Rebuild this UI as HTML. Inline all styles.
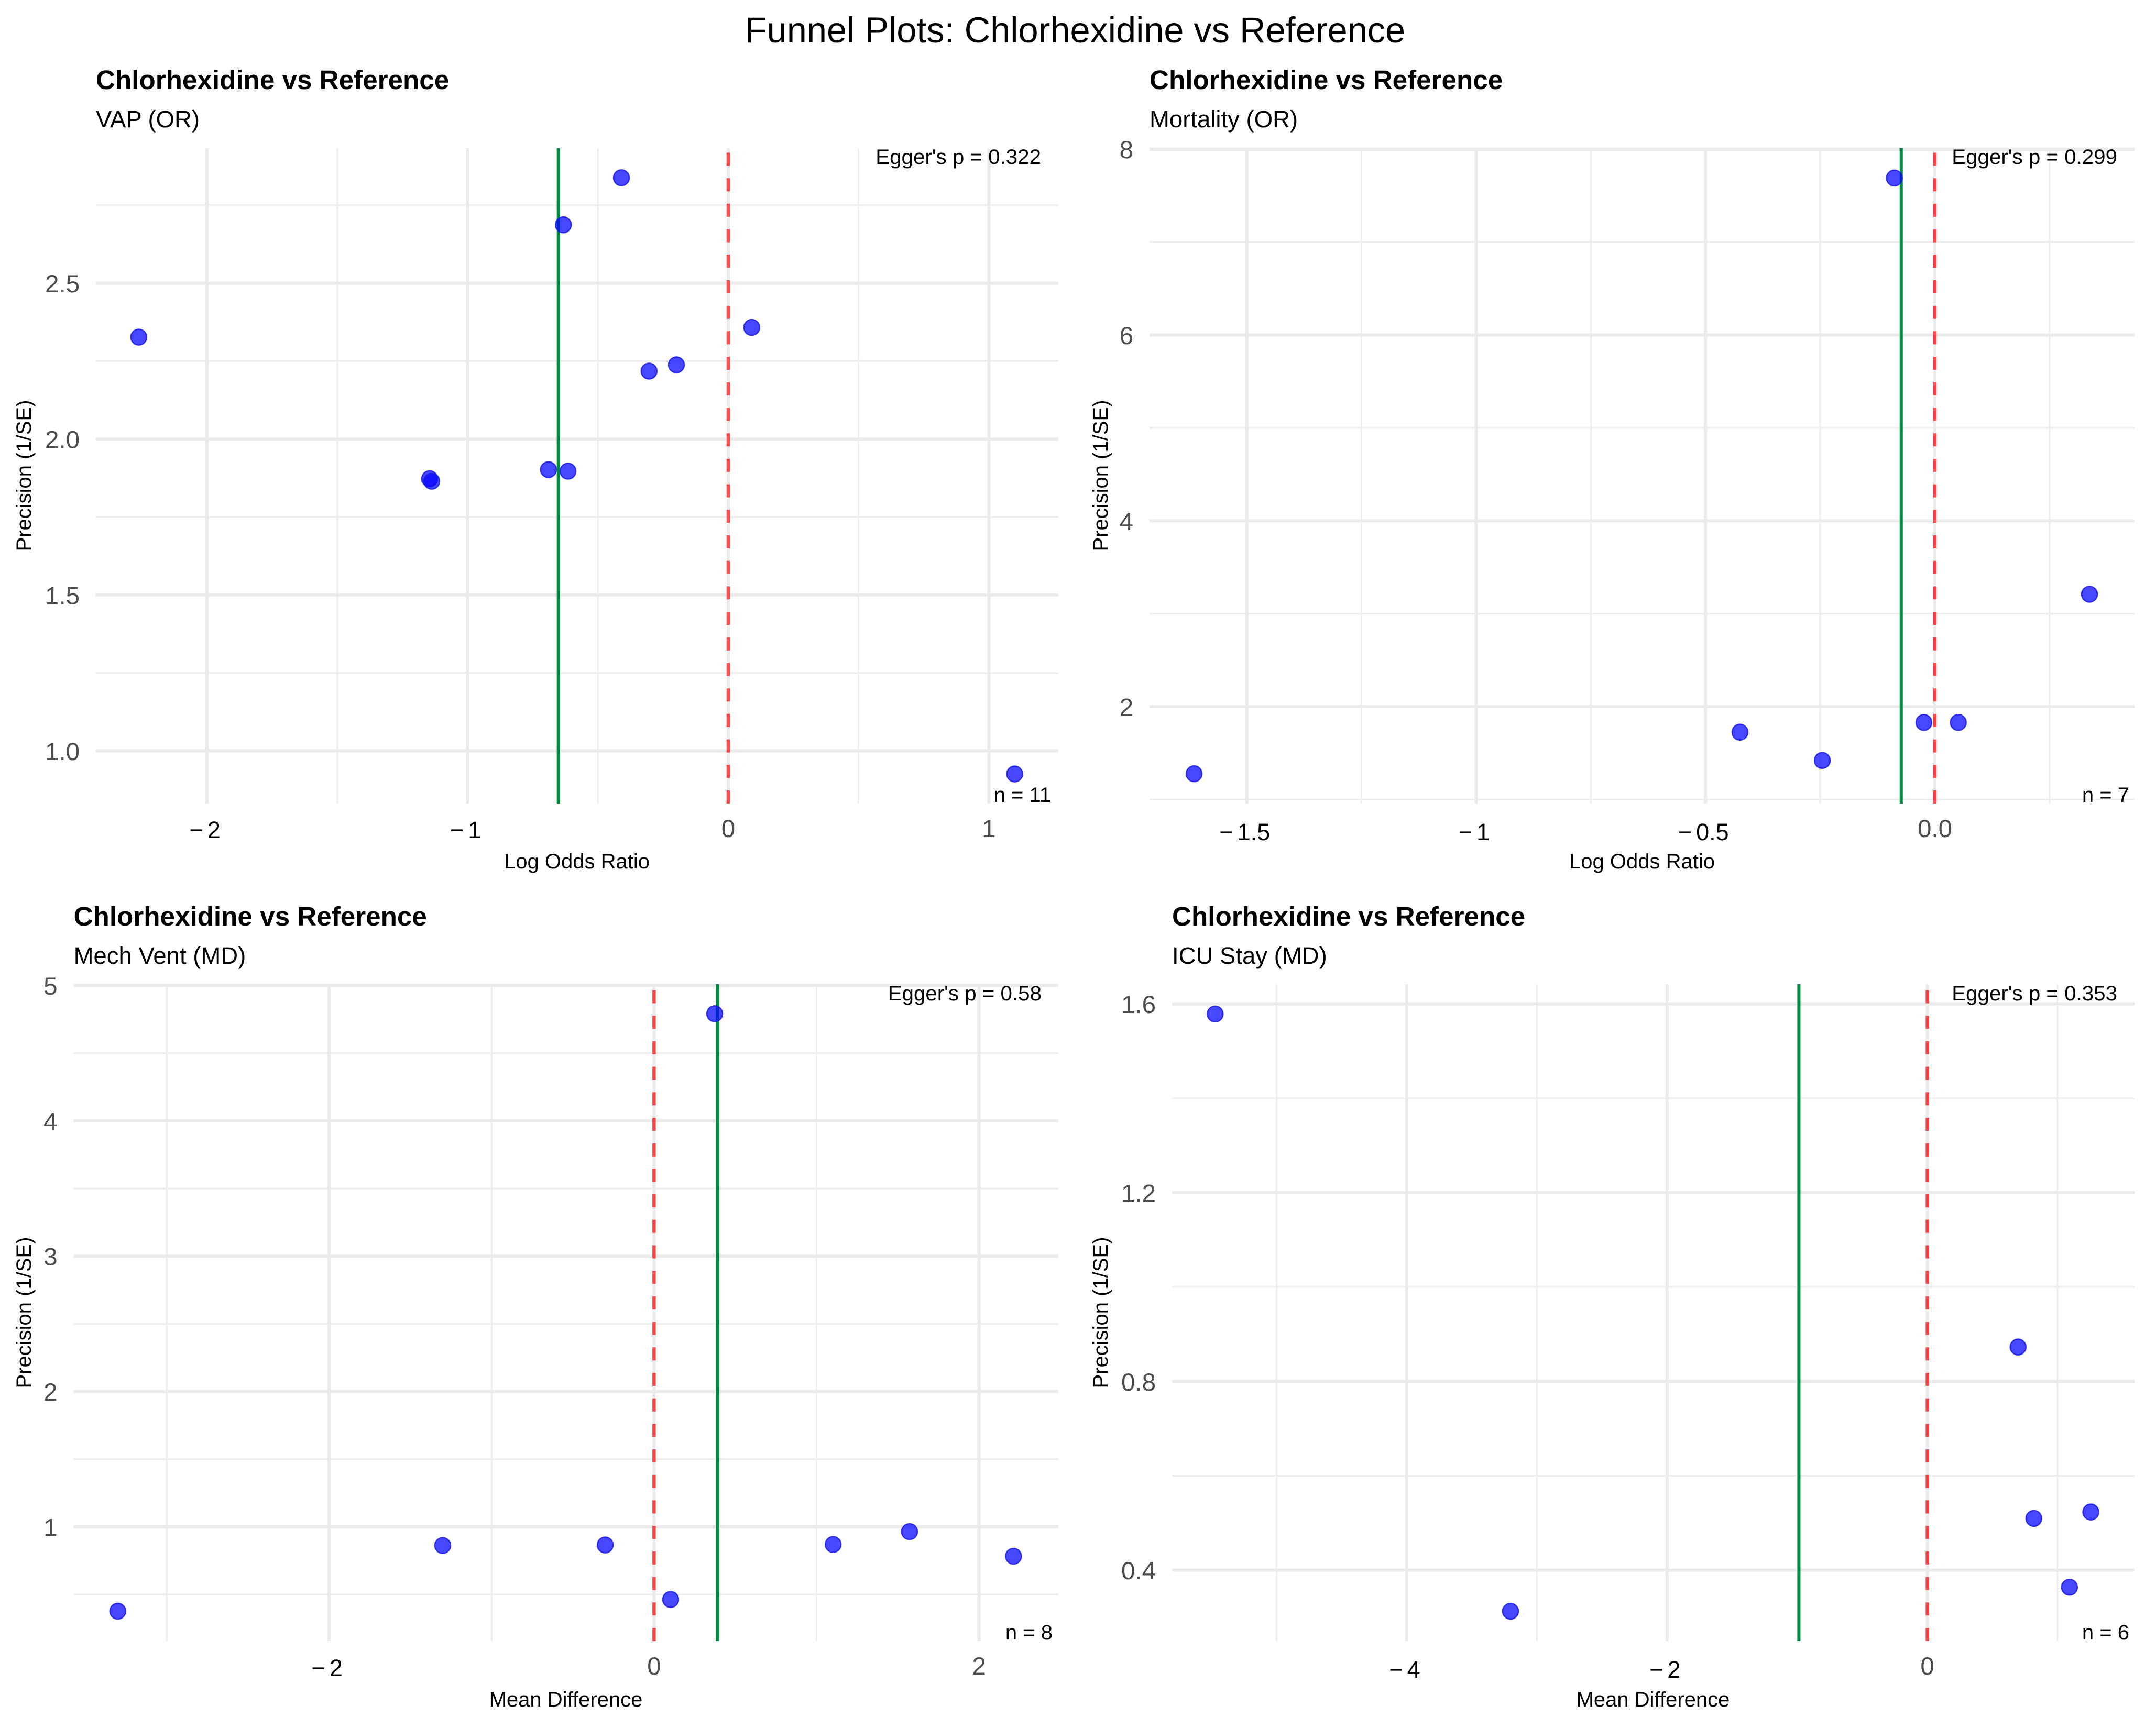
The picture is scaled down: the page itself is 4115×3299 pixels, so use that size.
<!DOCTYPE html>
<html lang="en">
<head>
<meta charset="utf-8">
<title>Funnel Plots: Chlorhexidine vs Reference</title>
<style>
  html, body { margin: 0; padding: 0; background: #fff; }
  svg { display: block; font-family: "Liberation Sans", Arial, sans-serif; }
  .panel-title { font-size: 51.2px; font-weight: bold; fill: #000; }
  .panel-subtitle { font-size: 45.5px; fill: #000; }
  .axis-title { font-size: 40px; fill: #000; }
  .egger { font-size: 40.3px; fill: #000; text-anchor: end; }
  .count { font-size: 40px; fill: #000; text-anchor: end; }
</style>
</head>
<body>
<svg id="chart" xmlns="http://www.w3.org/2000/svg" width="4115" height="3299" viewBox="0 0 4115 3299">
  <rect x="0" y="0" width="4115" height="3299" fill="#ffffff"/>
  <text x="2052" y="81" font-size="68.5" text-anchor="middle" fill="#000">Funnel Plots: Chlorhexidine vs Reference</text>

  <g id="panel-vap">
    <g id="marks-vap"></g>
    <text class="panel-title" x="183" y="170">Chlorhexidine vs Reference</text>
    <text class="panel-subtitle" x="183" y="243">VAP (OR)</text>
    <text class="axis-title" x="1101" y="1658" text-anchor="middle">Log Odds Ratio</text>
    <text class="axis-title" transform="translate(59 908) rotate(-90)" text-anchor="middle">Precision (1/SE)</text>
    <text class="egger" x="1987" y="313">Egger's p = 0.322</text>
    <text class="count" x="2006" y="1531">n = 11</text>
  </g>

  <g id="panel-mortality">
    <g id="marks-mortality"></g>
    <text class="panel-title" x="2194" y="170">Chlorhexidine vs Reference</text>
    <text class="panel-subtitle" x="2194" y="243">Mortality (OR)</text>
    <text class="axis-title" x="3134" y="1658" text-anchor="middle">Log Odds Ratio</text>
    <text class="axis-title" transform="translate(2114 908) rotate(-90)" text-anchor="middle">Precision (1/SE)</text>
    <text class="egger" x="4041" y="313">Egger's p = 0.299</text>
    <text class="count" x="4064" y="1531">n = 7</text>
  </g>

  <g id="panel-vent">
    <g id="marks-vent"></g>
    <text class="panel-title" x="140.6" y="1767">Chlorhexidine vs Reference</text>
    <text class="panel-subtitle" x="140.6" y="1840">Mech Vent (MD)</text>
    <text class="axis-title" x="1080" y="3258" text-anchor="middle">Mean Difference</text>
    <text class="axis-title" transform="translate(59 2506) rotate(-90)" text-anchor="middle">Precision (1/SE)</text>
    <text class="egger" x="1988" y="1910">Egger's p = 0.58</text>
    <text class="count" x="2009" y="3130">n = 8</text>
  </g>

  <g id="panel-icu">
    <g id="marks-icu"></g>
    <text class="panel-title" x="2237" y="1767">Chlorhexidine vs Reference</text>
    <text class="panel-subtitle" x="2237" y="1840">ICU Stay (MD)</text>
    <text class="axis-title" x="3155" y="3258" text-anchor="middle">Mean Difference</text>
    <text class="axis-title" transform="translate(2114 2506) rotate(-90)" text-anchor="middle">Precision (1/SE)</text>
    <text class="egger" x="4041" y="1910">Egger's p = 0.353</text>
    <text class="count" x="4064" y="3130">n = 6</text>
  </g>
</svg>

<script>
// ---------- VAP (OR) ----------
const vapEffect = [-2.262, -1.146, -1.138, -0.69, -0.615, -0.633, -0.41, -0.304, -0.199, 0.09, 1.099];
const vapPrecision = [2.327, 1.873, 1.865, 1.902, 1.897, 2.687, 2.838, 2.218, 2.238, 2.358, 0.926];
const vapPooled = [-0.652];
const vapXMajor = [-2, -1, 0, 1];
const vapXMinor = [-1.5, -0.5, 0.5];
const vapYMajor = [1, 1.5, 2, 2.5];
const vapYMinor = [1.25, 1.75, 2.25, 2.75];
const vapXLabels = ['-2', '-1', '0', '1'];
const vapYLabels = ['1.0', '1.5', '2.0', '2.5'];
const vapXDomain = [-2.4266, 1.2666];
const vapYDomain = [0.8312, 2.9327];

// ---------- Mortality (OR) ----------
const mortalityEffect = [-1.615, -0.425, -0.2455, -0.0883, -0.024, 0.051, 0.337];
const mortalityPrecision = [1.278, 1.726, 1.421, 7.689, 1.83, 1.83, 3.21];
const mortalityPooled = [-0.0734];
const mortalityXMajor = [-1.5, -1, -0.5, 0];
const mortalityXMinor = [-1.25, -0.75, -0.25, 0.25];
const mortalityYMajor = [2, 4, 6, 8];
const mortalityYMinor = [1, 3, 5, 7];
const mortalityXLabels = ['-1.5', '-1', '-0.5', '0.0'];
const mortalityYLabels = ['2', '4', '6', '8'];
const mortalityXDomain = [-1.7122, 0.4352];
const mortalityYDomain = [0.9577, 8.0096];

// ---------- Mech Vent (MD) ----------
const ventEffect = [-3.301, -1.301, -0.301, 0.102, 0.373, 1.102, 1.572, 2.212];
const ventPrecision = [0.377, 0.862, 0.866, 0.4635, 4.791, 0.87, 0.9645, 0.783];
const ventPooled = [0.39];
const ventXMajor = [-2, 0, 2];
const ventXMinor = [-3, -1, 1];
const ventYMajor = [1, 2, 3, 4, 5];
const ventYMinor = [0.5, 1.5, 2.5, 3.5, 4.5];
const ventXLabels = ['-2', '0', '2'];
const ventYLabels = ['1', '2', '3', '4', '5'];
const ventXDomain = [-3.5724, 2.4882];
const ventYDomain = [0.1563, 5.0093];

// ---------- ICU Stay (MD) ----------
const icuEffect = [-5.472, -3.203, 0.697, 0.818, 1.256, 1.092];
const icuPrecision = [1.5785, 0.3129, 0.8728, 0.5097, 0.5233, 0.3638];
const icuPooled = [-0.987];
const icuXMajor = [-4, -2, 0];
const icuXMinor = [-5, -3, -1, 1];
const icuYMajor = [0.4, 0.8, 1.2, 1.6];
const icuYMinor = [0.6, 1.0, 1.4];
const icuXLabels = ['-4', '-2', '0'];
const icuYLabels = ['0.4', '0.8', '1.2', '1.6'];
const icuXDomain = [-5.8035, 1.5918];
const icuYDomain = [0.2498, 1.6416];

const SVG_NS = 'http://www.w3.org/2000/svg';

function makeEl(tag, parent, attrs) {
  const el = document.createElementNS(SVG_NS, tag);
  for (const key in attrs) el.setAttribute(key, attrs[key]);
  parent.appendChild(el);
  return el;
}

function linearScale(domain, pixelStart, pixelEnd) {
  return function (v) {
    return pixelStart + (v - domain[0]) / (domain[1] - domain[0]) * (pixelEnd - pixelStart);
  };
}

function drawPanel(p) {
  const root = document.getElementById(p.id);
  const xAxis = linearScale(p.xDomain, p.left, p.right);
  const yAxis = linearScale(p.yDomain, p.bottom, p.top);

  p.xMinor.forEach(function (v) {
    const el = makeEl('line', root, { x1: xAxis(v), x2: xAxis(v), y1: p.top, y2: p.bottom, stroke: '#eeeeee', 'stroke-width': 3.2 });
    
    
  });
  p.yMinor.forEach(function (v) {
    const el = makeEl('line', root, { x1: p.left, x2: p.right, y1: yAxis(v), y2: yAxis(v), stroke: '#eeeeee', 'stroke-width': 3.2 });
    
    
  });
  p.xMajor.forEach(function (v) {
    const el = makeEl('line', root, { x1: xAxis(v), x2: xAxis(v), y1: p.top, y2: p.bottom, stroke: '#ebebeb', 'stroke-width': 6 });
    
    
  });
  p.yMajor.forEach(function (v) {
    const el = makeEl('line', root, { x1: p.left, x2: p.right, y1: yAxis(v), y2: yAxis(v), stroke: '#ebebeb', 'stroke-width': 6 });
    
    
  });

  const nullLine = makeEl('line', root, {
    x1: xAxis(0), x2: xAxis(0), y1: p.bottom, y2: p.top,
    stroke: '#ff0000', 'stroke-opacity': 0.7, 'stroke-width': 6.5, 'stroke-dasharray': '25 23.7'
  });
  
  

  const pooledLine = makeEl('line', root, {
    x1: xAxis(p.pooled[0]), x2: xAxis(p.pooled[0]), y1: p.top, y2: p.bottom,
    stroke: '#00893f', 'stroke-width': 6
  });
  
  

  p.effect.forEach(function (v, i) {
    const el = makeEl('circle', root, {
      cx: xAxis(v), cy: yAxis(p.precision[i]), r: 15,
      fill: '#0000ff', 'fill-opacity': 0.72, stroke: '#1a1ae6', 'stroke-opacity': 0.85, 'stroke-width': 2.5
    });
    
    
  });

  p.xMajor.forEach(function (v, i) {
    const negative = v < 0;
    const raw = p.xLabels[i];
    const el = makeEl('text', root, {
      x: xAxis(v) - (negative ? 4 : 0),
      y: p.bottom + 64 + (negative ? p.negDrop : 0),
      'text-anchor': 'middle',
      'font-size': negative ? 45 : 47.5,
      fill: negative ? '#000000' : '#4d4d4d'
    });
    
    
    if (negative) {
      el.appendChild(document.createTextNode('\u2212'));
      const digits = makeEl('tspan', el, { dx: 8 });
      digits.textContent = raw.slice(1);
    } else {
      el.textContent = raw;
    }
  });

  p.yMajor.forEach(function (v, i) {
    const el = makeEl('text', root, {
      x: p.left - 31, y: yAxis(v) + 17.5,
      'text-anchor': 'end', 'font-size': 47.5, fill: '#4d4d4d'
    });
    
    
    el.textContent = p.yLabels[i];
  });
}

drawPanel({ id: 'marks-vap', left: 183, right: 2020, top: 283, bottom: 1534, negDrop: 2,
  xDomain: vapXDomain, yDomain: vapYDomain, effect: vapEffect, precision: vapPrecision, pooled: vapPooled,
  xMajor: vapXMajor, xMinor: vapXMinor, yMajor: vapYMajor, yMinor: vapYMinor, xLabels: vapXLabels, yLabels: vapYLabels });

drawPanel({ id: 'marks-mortality', left: 2194, right: 4074, top: 283, bottom: 1534, negDrop: 6,
  xDomain: mortalityXDomain, yDomain: mortalityYDomain, effect: mortalityEffect, precision: mortalityPrecision, pooled: mortalityPooled,
  xMajor: mortalityXMajor, xMinor: mortalityXMinor, yMajor: mortalityYMajor, yMinor: mortalityYMinor, xLabels: mortalityXLabels, yLabels: mortalityYLabels });

drawPanel({ id: 'marks-vent', left: 140.6, right: 2020, top: 1879, bottom: 3133, negDrop: 3,
  xDomain: ventXDomain, yDomain: ventYDomain, effect: ventEffect, precision: ventPrecision, pooled: ventPooled,
  xMajor: ventXMajor, xMinor: ventXMinor, yMajor: ventYMajor, yMinor: ventYMinor, xLabels: ventXLabels, yLabels: ventYLabels });

drawPanel({ id: 'marks-icu', left: 2237, right: 4074, top: 1879, bottom: 3133, negDrop: 6,
  xDomain: icuXDomain, yDomain: icuYDomain, effect: icuEffect, precision: icuPrecision, pooled: icuPooled,
  xMajor: icuXMajor, xMinor: icuXMinor, yMajor: icuYMajor, yMinor: icuYMinor, xLabels: icuXLabels, yLabels: icuYLabels });
</script>
</body>
</html>
